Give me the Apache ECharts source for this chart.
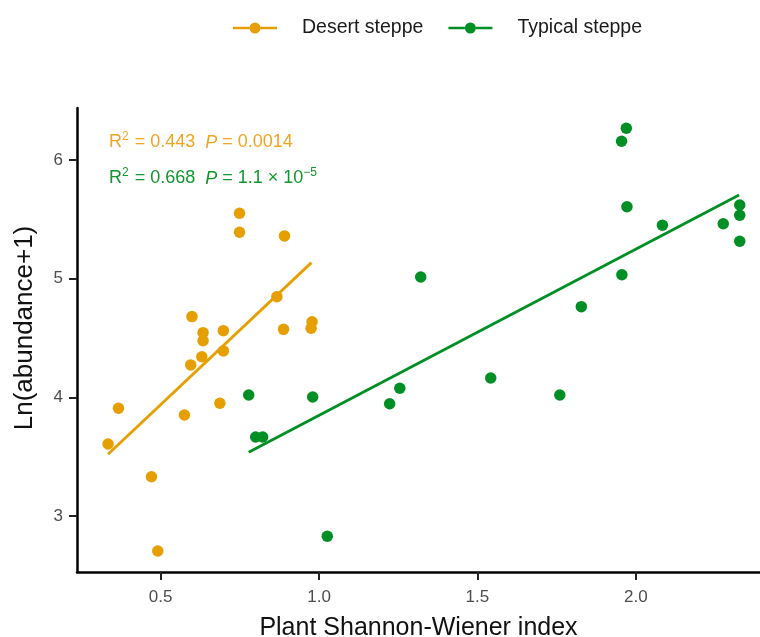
<!DOCTYPE html>
<html>
<head>
<meta charset="utf-8">
<title>Shannon-Wiener vs abundance</title>
<script src="https://cdn.jsdelivr.net/npm/echarts@6.0.0/dist/echarts.min.js"></script>
<style>
  html, body { margin: 0; padding: 0; background: #fff; }
</style>
</head>
<body>
<div id="chartmain" style="width:760px; height:637px;"></div>
<script type="text/javascript">
// data
var desertX = [0.334, 0.367, 0.471, 0.491, 0.575, 0.599, 0.595, 0.634, 0.634, 0.630,
               0.687, 0.698, 0.698, 0.749, 0.749, 0.867, 0.891, 0.888, 0.978, 0.975];
var desertY = [3.607, 3.908, 3.331, 2.705, 3.851, 4.680, 4.273, 4.545, 4.477, 4.342,
               3.950, 4.562, 4.391, 5.551, 5.391, 4.848, 5.360, 4.573, 4.637, 4.582];
var typicalX = [0.778, 0.980, 0.800, 0.822, 1.026, 1.255, 1.223, 1.321, 1.542, 1.760,
                1.828, 1.956, 1.955, 1.970, 1.972, 2.084, 2.276, 2.328, 2.328, 2.328];
var typicalY = [4.020, 4.003, 3.666, 3.666, 2.829, 4.076, 3.946, 5.014, 4.163, 4.020,
                4.764, 5.033, 6.158, 6.267, 5.606, 5.450, 5.463, 5.621, 5.534, 5.315];
// fitted line end points
var desertFitX = [0.334, 0.976];
var desertFitY = [3.520, 5.135];
var typicalFitX = [0.778, 2.326];
var typicalFitY = [3.537, 5.705];
var xTicks = [0.5, 1.0, 1.5, 2.0];
var yTicks = [3, 4, 5, 6];

var orange = '#E69F00';
var green = '#008F25';
var font = 'Liberation Sans, Arial, sans-serif';

function pairs(xs, ys) {
    var out = [];
    for (var i = 0; i < xs.length; i++) out.push([xs[i], ys[i]]);
    return out;
}

// legend icon: line with a dot in the middle
var legendIcon = 'path://M0,4.8L16.5,4.8L16.5,7.2L0,7.2Z' +
    'M16.5,6A5.5,5.5 0 1,0 27.5,6A5.5,5.5 0 1,0 16.5,6Z' +
    'M27.5,4.8L44,4.8L44,7.2L27.5,7.2Z';

var myChart = echarts.init(document.getElementById('chartmain'));

var rich = {
    n: { fontSize: 18, fontFamily: font },
    s: { fontSize: 12, fontFamily: font, padding: [0, 1, 11, 0] },
    i: { fontSize: 18, fontStyle: 'italic', fontFamily: font }
};

myChart.setOption({
    animation: false,
    textStyle: { fontFamily: font },
    legend: {
        top: 13,
        left: 228,
        itemWidth: 44,
        itemHeight: 12,
        itemGap: 25,
        data: [
            { name: 'Desert steppe', icon: legendIcon },
            { name: 'Typical steppe', icon: legendIcon }
        ],
        textStyle: { fontSize: 19.5, color: '#1a1a1a', padding: [0, 0, 0, 20] }
    },
    grid: { left: 77, right: 0, top: 108, bottom: 65, outerBoundsMode: 'none' },
    xAxis: {
        type: 'value',
        min: 0.236,
        max: 2.392,
        name: 'Plant Shannon-Wiener index',
        nameLocation: 'middle',
        nameGap: 44,
        nameTextStyle: { fontSize: 25, color: '#111' },
        splitLine: { show: false },
        axisLine: { show: true, onZero: false, lineStyle: { color: '#000', width: 2.5 } },
        axisTick: { show: true, length: 8, lineStyle: { color: '#222', width: 2 }, customValues: xTicks },
        axisLabel: {
            fontSize: 17, color: '#4d4d4d', margin: 17,
            customValues: xTicks,
            formatter: function (v) { return v.toFixed(1); }
        }
    },
    yAxis: {
        type: 'value',
        min: 2.528,
        max: 6.438,
        name: 'Ln(abundance+1)',
        nameLocation: 'middle',
        nameGap: 39,
        nameTextStyle: { fontSize: 26, color: '#111', padding: [0, 0, 0, 24] },
        splitLine: { show: false },
        axisLine: { show: true, onZero: false, lineStyle: { color: '#000', width: 2.5 } },
        axisTick: { show: true, length: 8, lineStyle: { color: '#222', width: 2 }, customValues: yTicks },
        axisLabel: { fontSize: 17, color: '#4d4d4d', margin: 14, customValues: yTicks }
    },
    graphic: [
        {
            type: 'text', left: 109, top: 131,
            style: {
                text: '{n|R}{s|2}{n| = 0.443  }{i|P}{n| = 0.0014}',
                rich: rich, fill: '#F0A520'
            }
        },
        {
            type: 'text', left: 109, top: 167,
            style: {
                text: '{n|R}{s|2}{n| = 0.668  }{i|P}{n| = 1.1 × 10}{s|−5}',
                rich: rich, fill: '#12962E'
            }
        }
    ],
    series: [
        {
            name: 'Desert steppe',
            type: 'scatter',
            symbolSize: 11.5,
            itemStyle: { color: orange, opacity: 1 },
            data: pairs(desertX, desertY)
        },
        {
            name: 'Typical steppe',
            type: 'scatter',
            symbolSize: 11.5,
            itemStyle: { color: green, opacity: 1 },
            data: pairs(typicalX, typicalY)
        },
        {
            name: 'Desert steppe',
            type: 'line',
            showSymbol: false,
            lineStyle: { color: orange, width: 2.8 },
            itemStyle: { color: orange },
            data: pairs(desertFitX, desertFitY)
        },
        {
            name: 'Typical steppe',
            type: 'line',
            showSymbol: false,
            lineStyle: { color: green, width: 2.8 },
            itemStyle: { color: green },
            data: pairs(typicalFitX, typicalFitY)
        }
    ]
});
</script>
</body>
</html>
